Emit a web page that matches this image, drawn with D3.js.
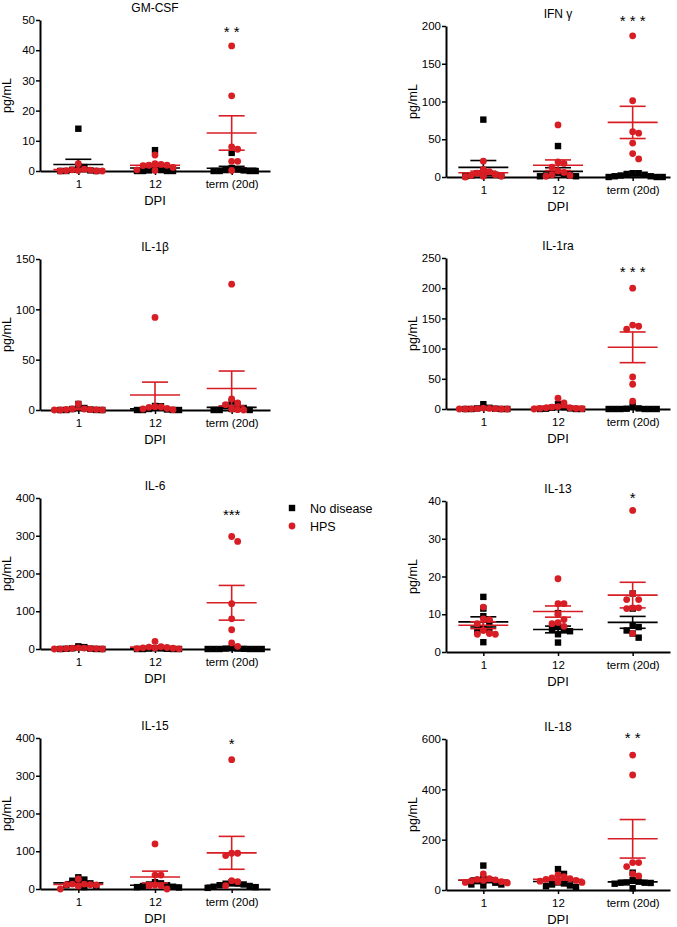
<!DOCTYPE html>
<html>
<head>
<meta charset="utf-8">
<script src="https://cdn.jsdelivr.net/npm/d3@7"></script>
<style>
  body { margin: 0; background: #fff; }
  svg { font-family: "Liberation Sans", Arial, sans-serif; }
</style>
</head>
<body>
<div id="chart"></div>
<script>
const cytokines = ["GM-CSF", "IFN \u03b3", "IL-1\u03b2", "IL-1ra", "IL-6", "IL-13", "IL-15", "IL-18"];
const dpi = ["1", "12", "term (20d)"];
const yMax = [50, 200, 150, 250, 400, 40, 400, 600];
const yStep = [10, 50, 50, 50, 100, 10, 100, 200];
const stars = ["* *", "* * *", "", "* * *", "***", "*", "*", "* *"];
const starLevel = [46.4, 208, 0, 228.6, 357.6, 41, 386.7, 608];
const groups = ["No disease", "HPS"];

// pg/mL per cytokine, per DPI
const noDisease = [
  [[14, 1.5, 1.3, 0.4, 0.2, 0, 0, 0], [6.9, 0.6, 0.3, 0.2, 0, 0, 0, 0], [6, 1, 0.5, 0.3, 0.2, 0, 0, 0, 0]],
  [[76, 8, 5, 5, 3, 2, 2, 1], [41, 6, 4, 3, 2, 2, 1, 1], [5, 5, 4, 3, 2, 1, 1, 0, 0, 0]],
  [[6, 2, 1, 0.5, 0, 0, 0, 0], [4, 3.7, 1, 0.5, 0, 0, 0, 0], [8.3, 5.3, 4.3, 2, 1, 0, 0, 0]],
  [[8, 2, 1, 0.5, 0, 0, 0, 0], [8, 3, 2, 1, 0.5, 0, 0, 0], [5.5, 1, 0.5, 0, 0, 0, 0, 0, 0]],
  [[7, 5, 2, 1, 0.5, 0, 0, 0], [2, 1.5, 1, 0.5, 0, 0, 0, 0], [2, 1, 1, 0.5, 0, 0, 0, 0, 0, 0]],
  [[14.6, 11.5, 9.5, 8, 6.2, 5.7, 5.7, 2.6], [10.3, 6.9, 6, 5.9, 5.5, 4.7, 2.5], [15.5, 11.5, 7, 6.6, 5.7, 4.9, 3.8]],
  [[31, 25, 22, 15, 13, 10, 8, 5], [18, 15, 12, 10, 8, 6, 5, 4], [18, 15, 14, 12, 10, 8, 6, 5, 3]],
  [[97, 45, 40, 35, 29, 22, 22, 18], [83, 64, 30, 26, 22, 18, 15, 12], [69, 40, 33, 30, 29, 29, 28, 25, 7]]
];
const hps = [
  [[2.4, 0.6, 0.4, 0.3, 0.2, 0.1, 0, 0, 0], [5.3, 2.4, 2.2, 1.9, 1.9, 1.8, 1.2, 0.4, 0.2], [41.4, 24.9, 8, 7.2, 3.2, 3.2, 0.2]],
  [[21, 10, 7, 5, 3, 2, 1, 1, 0], [69, 20, 18, 13, 8, 6, 3, 2, 1], [187, 101, 60, 58, 45, 31, 24]],
  [[6, 1, 1, 0.5, 0.5, 0.3, 0, 0, 0], [92, 3.3, 3, 2.7, 1.5, 1, 0.3], [125, 11, 7, 5.3, 1, 0.3, 0]],
  [[1.5, 1, 0.5, 0.5, 0.3, 0, 0, 0, 0], [18, 10, 4, 3, 2, 2, 1, 1, 0.5, 0], [200, 139, 137, 132, 53, 41, 13]],
  [[3, 2.5, 2, 1.5, 1, 1, 0.5, 0, 0], [20, 6, 5, 4, 3, 2.5, 2, 1, 0.5], [298, 285, 120, 80, 51, 16, 7]],
  [[11.9, 8.8, 8.6, 7.5, 5.7, 4.9, 4.7, 4.7], [19.4, 12.8, 12.8, 10, 8.6, 7.8, 7.5, 6.8], [37.5, 15.5, 13.9, 13.9, 11.7, 11.7, 11.5, 4.9]],
  [[26.5, 13, 13, 11.5, 11.5, 10.6, 8, 0], [119.5, 37, 37, 10.6, 8.8, 8.8, 0], [342.5, 94.7, 94.7, 88.5, 22, 19.5, 8.8]],
  [[64, 45, 42, 40, 38, 36, 33, 30, 28], [60, 53, 48, 45, 42, 38, 35, 32, 30], [536, 457, 109, 109, 93, 64, 56]]
];

const red = "#d81e25";
const colX = [40, 446];
const colRight = [270, 670];
const rowTop = [[20, 26], [259, 258], [498, 501], [738, 739]];
const plotH = 151;
const step = 6;

const svg = d3.select("#chart").append("svg").attr("width", 677).attr("height", 927);

// simple prism-like scatter: spread points sideways when they collide
const swarm = (vals, cx, y) => {
  const placed = [];
  vals.map((v) => ({ v, py: y(v) }))
    .sort((a, b) => a.py - b.py)
    .forEach((p) => {
      for (let k = 0; k < 60; k++) {
        const off = k === 0 ? 0 : (k % 2 ? 1 : -1) * Math.ceil(k / 2) * step;
        const ok = placed.every((q) => Math.abs(q.px - (cx + off)) > step - 0.1 || Math.abs(q.py - p.py) >= 6.5);
        if (ok) { p.px = cx + off; break; }
      }
      placed.push(p);
    });
  return placed;
};

const meanSem = (vals) => {
  const m = d3.mean(vals);
  return [m, d3.deviation(vals) / Math.sqrt(vals.length)];
};

cytokines.forEach((name, i) => {
  const col = i % 2, row = Math.floor(i / 2);
  const top = rowTop[row][col], bottom = top + plotH;
  const x = d3.scalePoint().domain(dpi).range([colX[col], colRight[col]]).padding(0.5);
  const y = d3.scaleLinear().domain([0, yMax[i]]).range([bottom, top]);
  const g = svg.append("g");

  const yAxis = g.append("g")
    .attr("transform", `translate(${colX[col]},0)`)
    .call(d3.axisLeft(y).tickValues(d3.range(0, yMax[i] + 1, yStep[i])).tickSize(4).tickSizeOuter(0).tickPadding(1));
  const xAxis = g.append("g")
    .attr("transform", `translate(0,${bottom})`)
    .call(d3.axisBottom(x).tickSize(4).tickSizeOuter(0).tickPadding(5));
  [yAxis, xAxis].forEach((a) => {
    a.select(".domain").attr("stroke-width", 2);
    a.selectAll(".tick line").attr("stroke-width", 1.5);
    a.selectAll("text").style("font-size", "11.5px").attr("fill", "#000");
  });

  g.append("text")
    .attr("x", x(dpi[1])).attr("y", top - 8)
    .attr("text-anchor", "middle").style("font-size", "12px")
    .text(name);

  g.append("text")
    .attr("transform", `translate(${colX[col] - 29},${(top + bottom) / 2}) rotate(-90)`)
    .attr("text-anchor", "middle").style("font-size", "12.5px")
    .text("pg/mL");

  g.append("text")
    .attr("x", x(dpi[1])).attr("y", bottom + 34)
    .attr("text-anchor", "middle").style("font-size", "13px")
    .text("DPI");

  if (stars[i]) {
    g.append("text")
      .attr("x", x(dpi[2])).attr("y", y(starLevel[i]) + 6)
      .attr("text-anchor", "middle").style("font-size", "15px")
      .text(stars[i]);
  }

  [noDisease[i], hps[i]].forEach((series, s) => {
    const color = s === 0 ? "#000" : red;
    series.forEach((vals, c) => {
      const pts = swarm(vals, x(dpi[c]), y);
      if (s === 0) {
        g.selectAll(null).data(pts).join("rect")
          .attr("x", (d) => d.px - 3.2).attr("y", (d) => d.py - 3.2)
          .attr("width", 6.4).attr("height", 6.4)
          .attr("fill", color);
      } else {
        g.selectAll(null).data(pts).join("circle")
          .attr("cx", (d) => d.px).attr("cy", (d) => d.py).attr("r", 3.4)
          .attr("fill", color);
      }
    });
    series.forEach((vals, c) => {
      const [m, se] = meanSem(vals);
      const cx = x(dpi[c]);
      const lines = [
        [cx - 25, y(m), cx + 25, y(m)],
        [cx - 13, y(m + se), cx + 13, y(m + se)],
        [cx - 13, y(Math.max(0, m - se)), cx + 13, y(Math.max(0, m - se))],
        [cx, y(m + se), cx, y(Math.max(0, m - se))]
      ];
      g.selectAll(null).data(lines).join("line")
        .attr("x1", (d) => d[0]).attr("y1", (d) => d[1])
        .attr("x2", (d) => d[2]).attr("y2", (d) => d[3])
        .attr("stroke", color).attr("stroke-width", 1.6);
    });
  });
});

// legend
const legend = svg.append("g").attr("transform", "translate(292,508)");
groups.forEach((grp, k) => {
  const row = legend.append("g").attr("transform", `translate(0,${k * 18})`);
  if (k === 0) {
    row.append("rect").attr("x", -3.2).attr("y", -3.2).attr("width", 6.4).attr("height", 6.4).attr("fill", "#000");
  } else {
    row.append("circle").attr("r", 3.4).attr("fill", red);
  }
  row.append("text").attr("x", 18).attr("y", 4.5).style("font-size", "12.5px").text(grp);
});
</script>
</body>
</html>
